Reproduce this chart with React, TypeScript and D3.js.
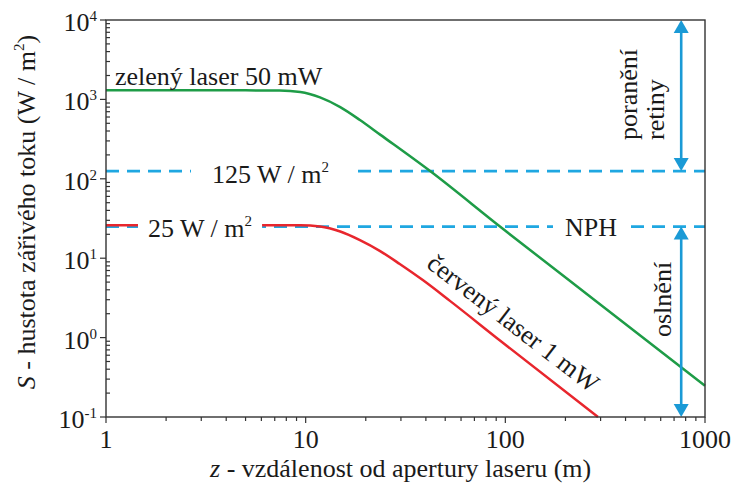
import React, { useEffect, useRef } from 'react';
import * as d3 from 'd3';

// values (z in m, S in W/m^2)
const zGreen = [1, 5, 7.4, 9.4, 11.8, 14.9, 18.7, 23.6, 42, 94, 300, 1000];
const sGreen = [1300, 1300, 1295, 1240, 1060, 800, 550, 360, 125, 25, 2.6, 0.248];

const zRed = [1, 5, 9.4, 11.8, 14.9, 18.7, 23.6, 29.6, 38.6, 52.8, 94, 291];
const sRed = [26, 26, 26, 25.1, 21.7, 16.9, 12.3, 8.45, 5.3, 2.9, 0.92, 0.1];

const xTicks = [1, 10, 100, 1000];
const xTickLabels = ['1', '10', '100', '1000'];
const yTicks = [0.1, 1, 10, 100, 1000, 10000];
const yExponents = ['-1', '0', '1', '2', '3', '4'];

const limitLevels = [125, 25];
const arrowZ = 760;
const arrowRanges: [number, number][] = [[125, 10000], [0.1, 25]];

const FONT = 'Liberation Serif, DejaVu Serif, Times New Roman, serif';
const TEXT = '#1a1a1a';
const AXIS = '#333333';
const DASH = '#1fa7e1';
const ARROW = '#1a9ad6';
const GREEN = '#1e9c47';
const RED = '#e8262d';

const App: React.FC = () => {
    const svgRef = useRef<SVGSVGElement | null>(null);

    useEffect(() => {
        if (!svgRef.current) return;
        const svg = d3.select(svgRef.current);
        svg.selectAll('*').remove();

        const width = 733;
        const height = 486;
        const margin = { top: 20, right: 28, bottom: 69, left: 106 };

        const x = d3.scaleLog().domain([1, 1000]).range([margin.left, width - margin.right]);
        const y = d3.scaleLog().domain([0.1, 10000]).range([height - margin.bottom, margin.top]);

        const x0 = x(1), x1 = x(1000), y0 = y(0.1), y1 = y(10000);

        svg.attr('width', width).attr('height', height)
            .attr('font-family', FONT);

        // minor ticks
        const minor = (lo: number, hi: number) => {
            const out: number[] = [];
            for (let d = lo; d < hi; d *= 10) {
                for (let k = 2; k <= 9; k++) out.push(d * k);
            }
            return out;
        };

        const ticks = svg.append('g').attr('stroke', AXIS).attr('stroke-width', 1.2);
        minor(1, 1000).forEach(v => {
            ticks.append('line').attr('x1', x(v)).attr('x2', x(v)).attr('y1', y0).attr('y2', y0 + 4);
        });
        xTicks.forEach(v => {
            ticks.append('line').attr('x1', x(v)).attr('x2', x(v)).attr('y1', y0).attr('y2', y0 + 6);
        });
        minor(0.1, 10000).forEach(v => {
            ticks.append('line').attr('x1', x0).attr('x2', x0 + 4).attr('y1', y(v)).attr('y2', y(v));
        });
        yTicks.forEach(v => {
            ticks.append('line').attr('x1', x0 - 6).attr('x2', x0).attr('y1', y(v)).attr('y2', y(v));
        });

        // tick labels
        svg.append('g').selectAll('text')
            .data(xTicks)
            .enter()
            .append('text')
            .attr('x', d => x(d))
            .attr('y', y0 + 31)
            .attr('text-anchor', 'middle')
            .attr('font-family', FONT)
            .attr('font-size', 26)
            .attr('fill', TEXT)
            .text((d, i) => xTickLabels[i]);

        const yl = svg.append('g');
        yTicks.forEach((v, i) => {
            const t = yl.append('text')
                .attr('x', x0 - 9)
                .attr('y', y(v) + 11)
                .attr('text-anchor', 'end')
                .attr('font-family', FONT)
                .attr('font-size', 26)
                .attr('fill', TEXT);
            t.append('tspan').text('10');
            t.append('tspan').attr('dy', -10).attr('font-size', 15).text(yExponents[i]);
        });

        // dashed limit lines
        limitLevels.forEach(v => {
            svg.append('line')
                .attr('x1', x0).attr('x2', x1)
                .attr('y1', y(v)).attr('y2', y(v))
                .attr('stroke', DASH)
                .attr('stroke-width', 2.6)
                .attr('stroke-dasharray', '13,8');
        });

        const line = d3.line<[number, number]>()
            .x(d => x(d[0]))
            .y(d => y(d[1]))
            .curve(d3.curveMonotoneX);

        svg.append('path')
            .datum(zRed.map((z, i) => [z, sRed[i]] as [number, number]))
            .attr('fill', 'none')
            .attr('stroke', RED)
            .attr('stroke-width', 2.5)
            .attr('d', line);

        svg.append('path')
            .datum(zGreen.map((z, i) => [z, sGreen[i]] as [number, number]))
            .attr('fill', 'none')
            .attr('stroke', GREEN)
            .attr('stroke-width', 2.5)
            .attr('d', line);

        // labels sitting on the lines, with white background
        const onLine = (tx: number, ty: number, pad: number, parts: [string, boolean][]) => {
            const g = svg.append('g');
            const bg = g.append('rect').attr('fill', 'white');
            const t = g.append('text')
                .attr('x', tx).attr('y', ty)
                .attr('font-family', FONT)
                .attr('font-size', 26)
                .attr('fill', TEXT);
            parts.forEach(([s, sup]) => {
                if (sup) {
                    t.append('tspan').attr('dy', -11).attr('font-size', 15).text(s);
                } else {
                    t.append('tspan').text(s);
                }
            });
            const bb = (t.node() as SVGTextElement).getBBox();
            bg.attr('x', bb.x - pad).attr('width', bb.width + 2 * pad)
                .attr('y', ty - 20).attr('height', 26);
        };

        onLine(212, y(125) + 12, 21, [['125 W / m', false], ['2', true]]);
        onLine(148, y(25) + 10, 10, [['25 W / m', false], ['2', true]]);
        onLine(565, y(25) + 9, 12, [['NPH', false]]);

        // curve labels
        svg.append('text')
            .attr('x', 115).attr('y', 85)
            .attr('font-family', FONT)
            .attr('font-size', 26)
            .attr('fill', TEXT)
            .text('zelený laser 50 mW');

        svg.append('text')
            .attr('transform', 'translate(508,330) rotate(37.5)')
            .attr('text-anchor', 'middle')
            .attr('font-family', FONT)
            .attr('font-size', 26)
            .attr('fill', TEXT)
            .text('červený laser 1 mW');

        // arrows
        const ax = x(arrowZ);
        arrowRanges.forEach(([lo, hi]) => {
            const ya = y(hi), yb = y(lo);
            const head = 13, half = 7.5;
            svg.append('line')
                .attr('x1', ax).attr('x2', ax)
                .attr('y1', ya + head - 1).attr('y2', yb - head + 1)
                .attr('stroke', ARROW)
                .attr('stroke-width', 2.6);
            svg.append('path')
                .attr('d', `M${ax},${ya}L${ax - half},${ya + head}L${ax + half},${ya + head}Z`)
                .attr('fill', ARROW);
            svg.append('path')
                .attr('d', `M${ax},${yb}L${ax - half},${yb - head}L${ax + half},${yb - head}Z`)
                .attr('fill', ARROW);
        });

        const vText = (tx: number, ty: number, s: string) => {
            svg.append('text')
                .attr('transform', `translate(${tx},${ty}) rotate(-90)`)
                .attr('font-family', FONT)
                .attr('font-size', 26)
                .attr('fill', TEXT)
                .text(s);
        };
        vText(637, 140, 'poranění');
        vText(664, 140, 'retiny');
        vText(671, 337, 'oslnění');

        // frame
        svg.append('rect')
            .attr('x', x0).attr('y', y1)
            .attr('width', x1 - x0).attr('height', y0 - y1)
            .attr('fill', 'none')
            .attr('stroke', AXIS)
            .attr('stroke-width', 1.4);

        // axis titles
        const xt = svg.append('text')
            .attr('x', 210).attr('y', 477)
            .attr('font-family', FONT)
            .attr('font-size', 26)
            .attr('fill', TEXT);
        xt.append('tspan').attr('font-style', 'italic').text('z');
        xt.append('tspan').text(' - vzdálenost od apertury laseru (m)');

        const yt = svg.append('text')
            .attr('transform', 'translate(35,212) rotate(-90)')
            .attr('text-anchor', 'middle')
            .attr('font-family', FONT)
            .attr('font-size', 26)
            .attr('fill', TEXT);
        yt.append('tspan').attr('font-style', 'italic').text('S');
        yt.append('tspan').text(' - hustota zářivého toku (W / m');
        yt.append('tspan').attr('dy', -11).attr('font-size', 15).text('2');
        yt.append('tspan').attr('dy', 11).text(')');
    }, []);

    return <svg ref={svgRef} style={{ position: 'absolute', left: 0, top: 0 }}></svg>;
};

export default App;
